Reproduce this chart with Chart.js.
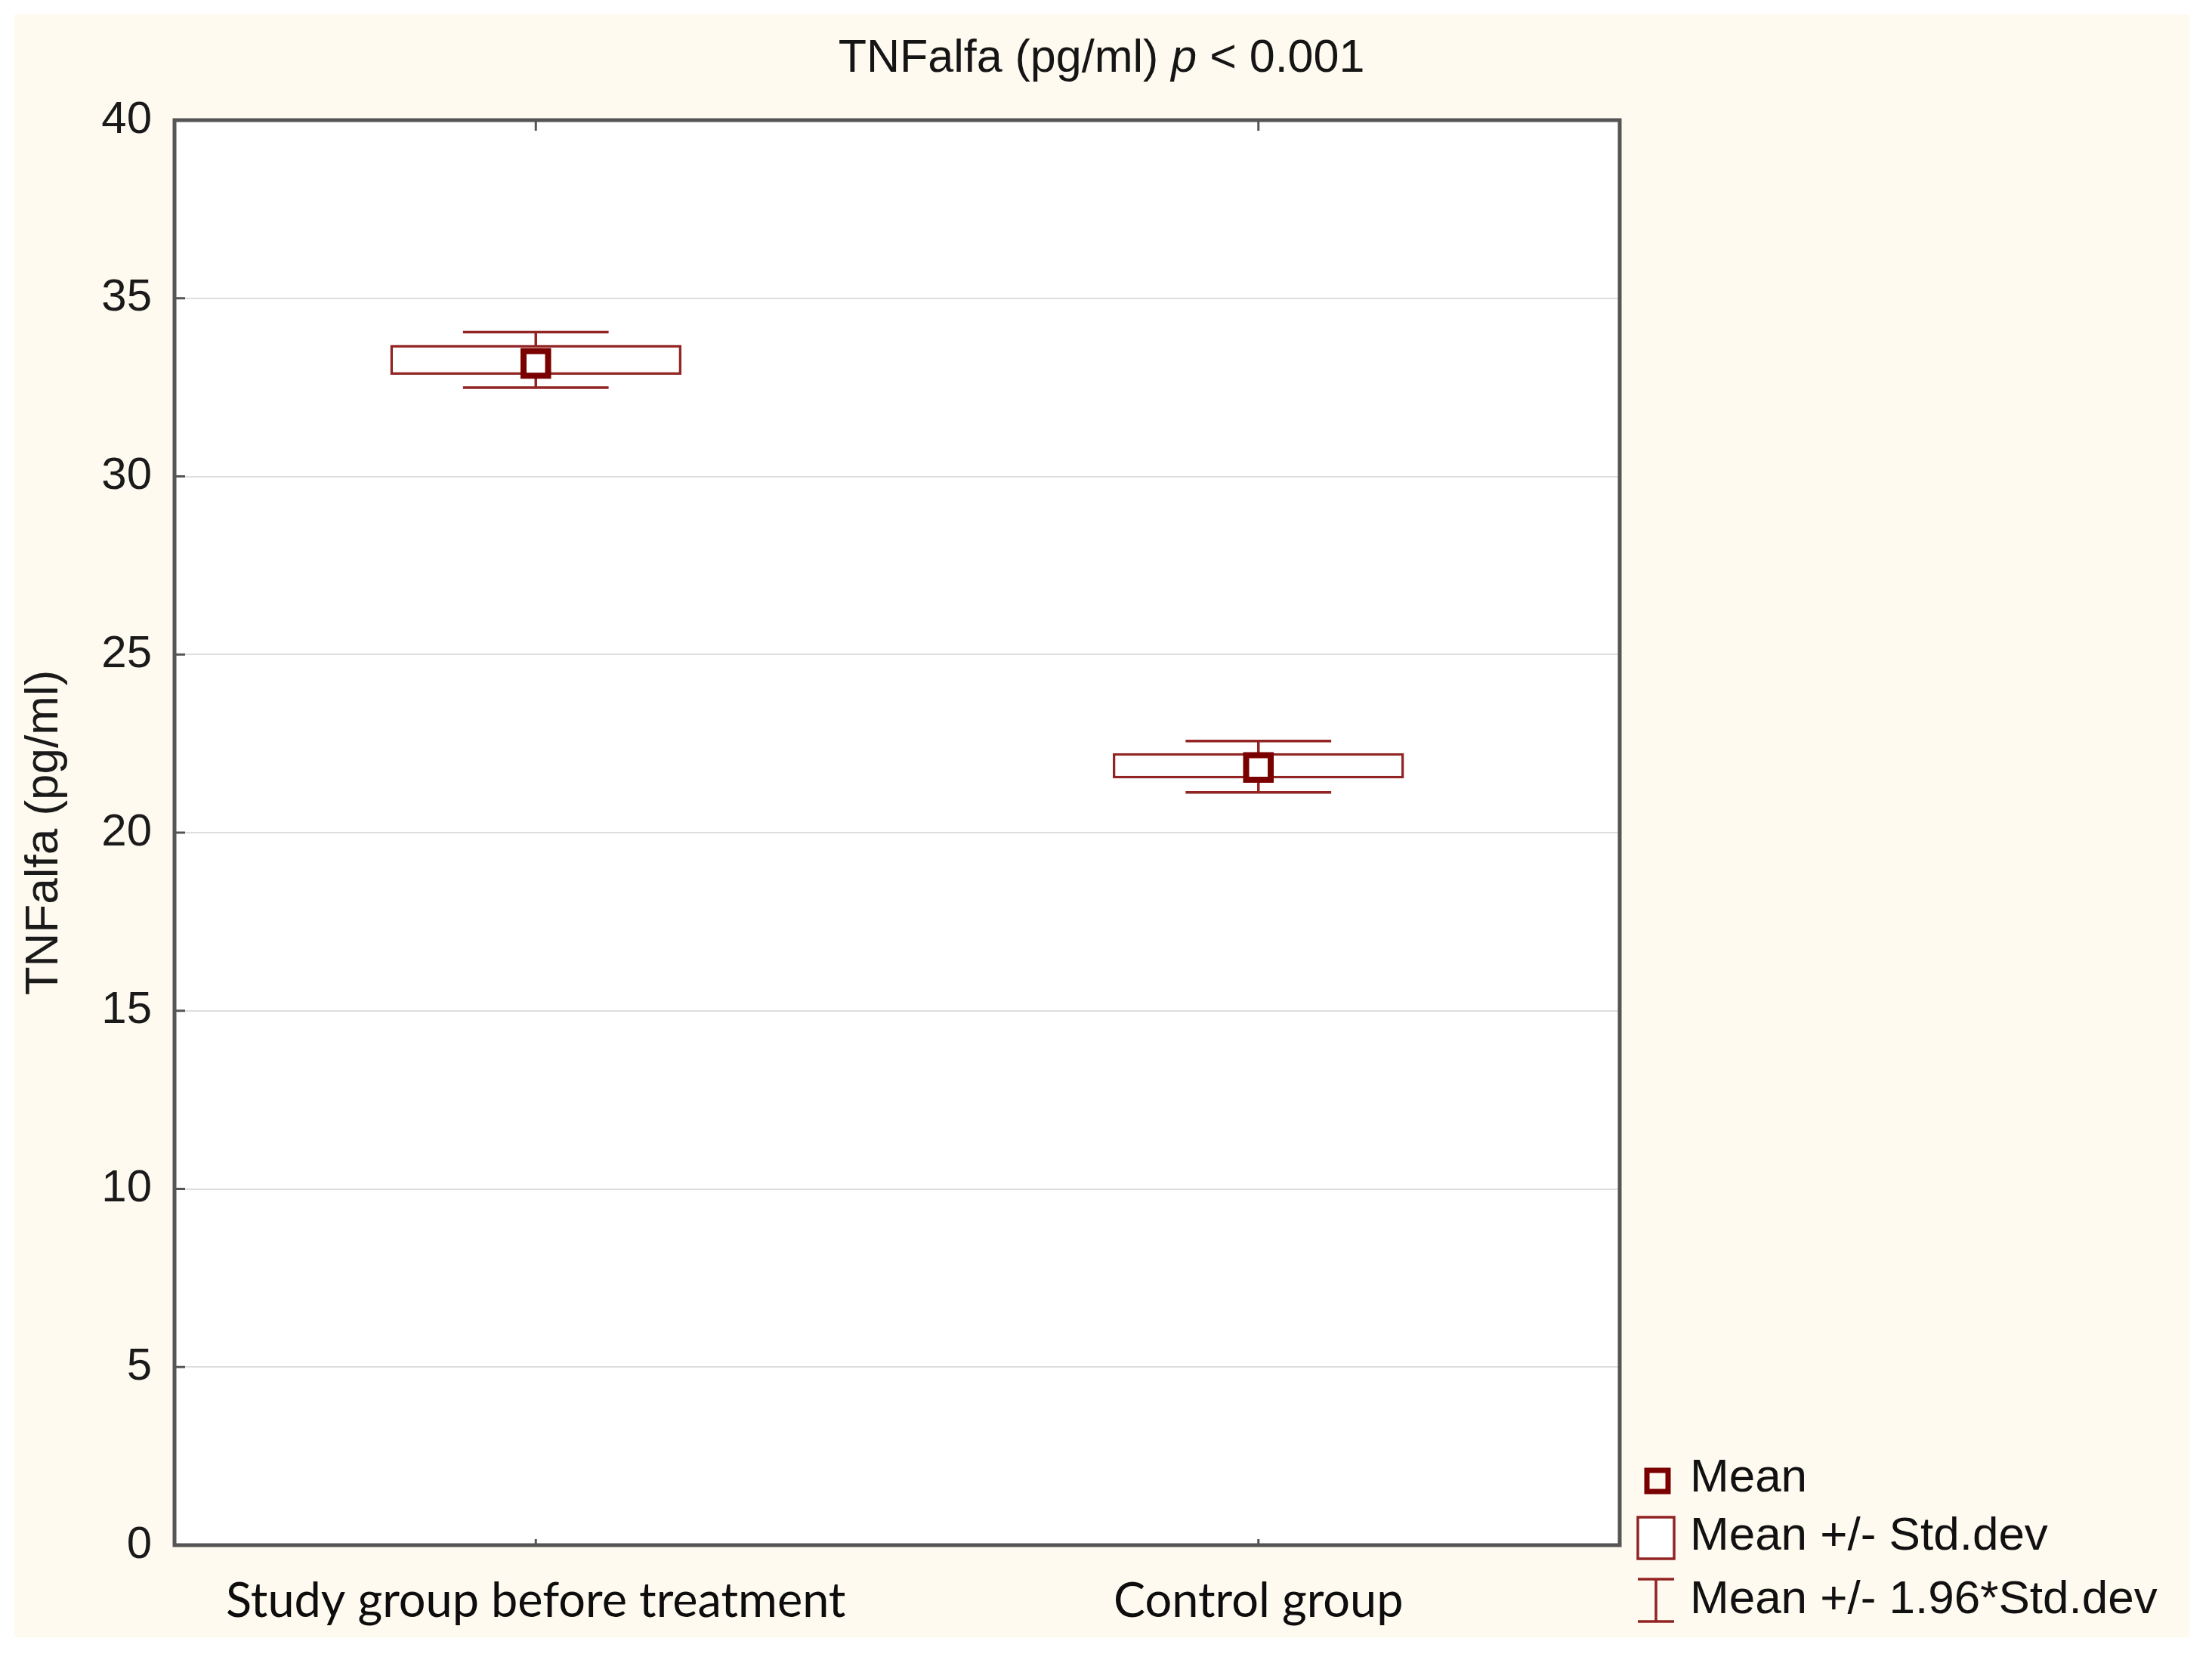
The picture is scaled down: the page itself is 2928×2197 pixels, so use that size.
<!DOCTYPE html>
<html>
<head>
<meta charset="utf-8">
<title>TNFalfa</title>
<script src="https://cdn.jsdelivr.net/npm/chart.js"></script>
<style>
  body { margin: 0; background: #ffffff; }
  canvas { display: block; }
</style>
</head>
<body>
<canvas id="myChart" width="2928" height="2197"></canvas>
<script>
'use strict';

// values
let groups = ['Study group before treatment', 'Control group'];
let means = [33.17, 21.83];
let sdLow = [32.85, 21.52];
let sdHigh = [33.69, 22.23];
let ciLow = [32.49, 21.13];
let ciHigh = [34.05, 22.57];
let yMin = 0;
let yMax = 40;
let yStep = 5;

let legendNames = ['Mean', 'Mean +/- Std.dev', 'Mean +/- 1.96*Std.dev'];

let darkRed = '#7a0000';
let boxRed = '#922424';
let frameGrey = '#555555';

let boxes = [];
for (let i = 0; i < groups.length; i++) {
  boxes.push([sdLow[i], sdHigh[i]]);
}

// cream paper + white plot area
let backdrop = {
  id: 'backdrop',
  beforeDraw(chart) {
    let ctx = chart.ctx;
    let a = chart.chartArea;
    ctx.save();
    ctx.fillStyle = '#ffffff';
    ctx.fillRect(0, 0, chart.width, chart.height);
    ctx.fillStyle = '#fffaf0';
    ctx.fillRect(19, 19, 2879, 2148);
    ctx.fillStyle = '#ffffff';
    ctx.fillRect(a.left, a.top, a.right - a.left, a.bottom - a.top);
    ctx.restore();
  }
};

// whiskers: mean +/- 1.96*sd
let whiskers = {
  id: 'whiskers',
  beforeDatasetsDraw(chart) {
    let ctx = chart.ctx;
    let x = chart.scales.x;
    let y = chart.scales.y;
    let bars = chart.getDatasetMeta(0).data;
    ctx.save();
    ctx.strokeStyle = boxRed;
    ctx.lineWidth = 3.5;
    for (let i = 0; i < groups.length; i++) {
      let px = x.getPixelForValue(i);
      let half = bars[i].width / 4;
      let top = y.getPixelForValue(ciHigh[i]);
      let bot = y.getPixelForValue(ciLow[i]);
      ctx.beginPath();
      ctx.moveTo(px, top);
      ctx.lineTo(px, bot);
      ctx.moveTo(px - half, top);
      ctx.lineTo(px + half, top);
      ctx.moveTo(px - half, bot);
      ctx.lineTo(px + half, bot);
      ctx.stroke();
    }
    ctx.restore();
  }
};

// frame, inner tick marks, title with italic p, legend
let decorations = {
  id: 'decorations',
  afterDraw(chart) {
    let ctx = chart.ctx;
    let a = chart.chartArea;
    let x = chart.scales.x;
    let y = chart.scales.y;
    ctx.save();

    ctx.strokeStyle = frameGrey;
    ctx.lineWidth = 3;
    y.ticks.forEach(function (t) {
      let py = y.getPixelForValue(t.value);
      ctx.beginPath();
      ctx.moveTo(a.left, py);
      ctx.lineTo(a.left + 14, py);
      ctx.stroke();
    });
    for (let i = 0; i < groups.length; i++) {
      let px = x.getPixelForValue(i);
      ctx.beginPath();
      ctx.moveTo(px, a.top);
      ctx.lineTo(px, a.top + 14);
      ctx.moveTo(px, a.bottom);
      ctx.lineTo(px, a.bottom - 8);
      ctx.stroke();
    }
    ctx.lineWidth = 5;
    ctx.strokeRect(a.left, a.top, a.right - a.left, a.bottom - a.top);

    // title
    let normal = '61px "Liberation Sans", Arial, sans-serif';
    let italic = 'italic 61px "Liberation Sans", Arial, sans-serif';
    let parts = [['TNFalfa (pg/ml) ', normal], ['p', italic], [' < 0.001', normal]];
    let total = 0;
    parts.forEach(function (p) {
      ctx.font = p[1];
      total += ctx.measureText(p[0]).width;
    });
    let tx = 1458 - total / 2;
    ctx.fillStyle = '#151515';
    ctx.textBaseline = 'middle';
    ctx.textAlign = 'left';
    parts.forEach(function (p) {
      ctx.font = p[1];
      ctx.fillText(p[0], tx, 78);
      tx += ctx.measureText(p[0]).width;
    });

    // legend
    let rows = [1957, 2034, 2118];
    ctx.font = '62px "Liberation Sans", Arial, sans-serif';
    ctx.fillStyle = '#111111';
    for (let i = 0; i < legendNames.length; i++) {
      ctx.fillText(legendNames[i], 2237, rows[i]);
    }
    ctx.strokeStyle = darkRed;
    ctx.lineWidth = 7;
    ctx.strokeRect(2180, 1946, 28, 28);
    ctx.strokeStyle = boxRed;
    ctx.lineWidth = 3.5;
    ctx.fillStyle = '#ffffff';
    ctx.fillRect(2168, 2008, 48, 55);
    ctx.strokeRect(2168, 2008, 48, 55);
    ctx.beginPath();
    ctx.moveTo(2168, 2090);
    ctx.lineTo(2216, 2090);
    ctx.moveTo(2192, 2090);
    ctx.lineTo(2192, 2146);
    ctx.moveTo(2168, 2146);
    ctx.lineTo(2216, 2146);
    ctx.stroke();

    ctx.restore();
  }
};

let ctx = document.getElementById('myChart').getContext('2d');
let chart = new Chart(ctx, {
  type: 'bar',
  data: {
    labels: groups,
    datasets: [{
      label: 'Mean +/- Std.dev',
      data: boxes,
      backgroundColor: '#ffffff',
      borderColor: boxRed,
      borderWidth: 3.5,
      borderSkipped: false,
      categoryPercentage: 1,
      barPercentage: 0.403,
      order: 2
    }, {
      type: 'line',
      label: 'Mean',
      data: means,
      showLine: false,
      pointStyle: 'rect',
      pointRadius: 23,
      pointBorderWidth: 8,
      pointBorderColor: darkRed,
      pointBackgroundColor: '#ffffff',
      order: 1
    }]
  },
  options: {
    responsive: false,
    devicePixelRatio: 1,
    animation: false,
    layout: { padding: { left: 19, top: 159, right: 784, bottom: 27 } },
    plugins: {
      legend: { display: false },
      title: { display: false },
      tooltip: { enabled: false }
    },
    scales: {
      x: {
        offset: true,
        grid: { display: false, drawTicks: false },
        border: { display: false },
        ticks: {
          color: '#0d0d0d',
          padding: 37,
          font: { family: 'Lato', size: 63 }
        },
        afterFit: function (scale) { scale.height = 125; }
      },
      y: {
        min: yMin,
        max: yMax,
        grid: { color: '#dedede', lineWidth: 2, drawTicks: false },
        border: { display: false },
        ticks: {
          stepSize: yStep,
          color: '#1a1a1a',
          padding: 30,
          font: { family: 'Liberation Sans', size: 60 }
        },
        title: {
          display: true,
          text: 'TNFalfa (pg/ml)',
          color: '#1a1a1a',
          padding: { top: 3, bottom: 4 },
          font: { family: 'Liberation Sans', size: 62 }
        },
        afterFit: function (scale) { scale.width = 212; }
      }
    }
  },
  plugins: [backdrop, whiskers, decorations]
});
</script>
</body>
</html>
